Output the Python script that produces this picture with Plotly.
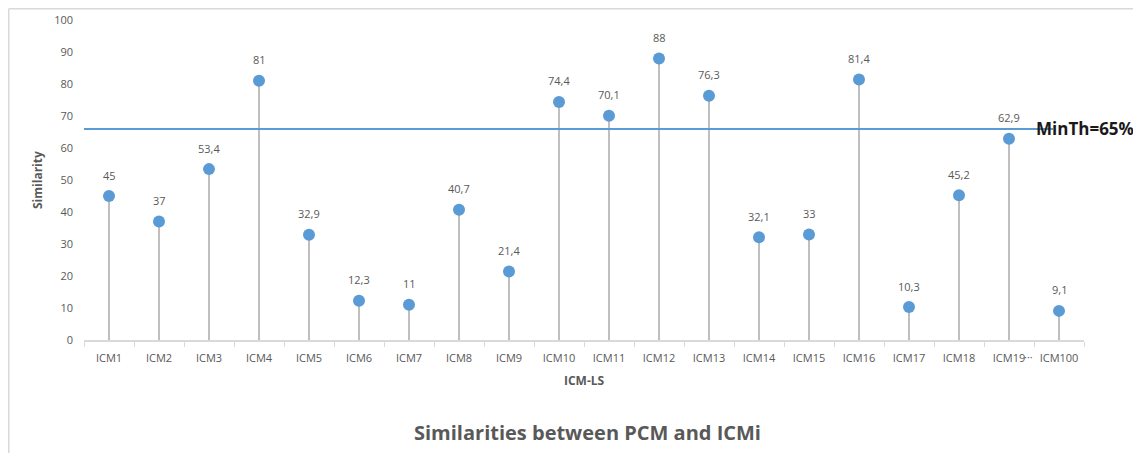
import plotly.graph_objects as go

categories = ["ICM1", "ICM2", "ICM3", "ICM4", "ICM5", "ICM6", "ICM7", "ICM8", "ICM9", "ICM10",
              "ICM11", "ICM12", "ICM13", "ICM14", "ICM15", "ICM16", "ICM17", "ICM18", "ICM19", "ICM100"]
similarity = [45, 37, 53.4, 81, 32.9, 12.3, 11, 40.7, 21.4, 74.4,
              70.1, 88, 76.3, 32.1, 33, 81.4, 10.3, 45.2, 62.9, 9.1]
y_ticks = [0, 10, 20, 30, 40, 50, 60, 70, 80, 90, 100]
threshold_label = "MinTh=65%"
threshold_line = 65.9

# page has an 8px body margin; figure coordinates = page coordinates - 8
OFF = 8
W, H = 1141 - OFF, 453 - OFF
L, T = 84 - OFF, 20 - OFF
pw, ph = 1000, 320
R, B = W - L - pw, H - T - ph

BLUE = "#5B9BD5"
GRAY_TXT = "#595959"
FONT = "Open Sans"


def px(xpage):
    return (xpage - OFF - L) / pw


def py(ypage):
    return 1 - (ypage - OFF - T) / ph


fig = go.Figure()

# stems
sx, sy = [], []
for c, v in zip(categories, similarity):
    sx += [c, c, None]
    sy += [0, v, None]
fig.add_trace(go.Scatter(x=sx, y=sy, mode="lines",
                         line=dict(color="#BFBFBF", width=2),
                         hoverinfo="skip", showlegend=False))
# points
fig.add_trace(go.Scatter(x=categories, y=similarity, mode="markers",
                         marker=dict(color=BLUE, size=12),
                         showlegend=False))

annotations = []
for c, v in zip(categories, similarity):
    annotations.append(dict(x=c, y=v, xref="x", yref="y",
                            text=f"{v:g}".replace(".", ","),
                            showarrow=False, yshift=21,
                            font=dict(family=FONT, size=11, color=GRAY_TXT)))

# threshold line
shapes = [dict(type="line", xref="paper", yref="y", x0=0, x1=px(1053),
               y0=threshold_line, y1=threshold_line,
               line=dict(color=BLUE, width=2))]
# outer border (top and left visible)
shapes.append(dict(type="line", xref="paper", yref="paper",
                   x0=px(8.75), x1=px(8.75), y0=py(460), y1=py(8.75),
                   line=dict(color="#D9D9D9", width=1.5)))
shapes.append(dict(type="line", xref="paper", yref="paper",
                   x0=px(8.75), x1=px(1150), y0=py(8.75), y1=py(8.75),
                   line=dict(color="#D9D9D9", width=1.5)))

annotations.append(dict(x=px(1034), y=threshold_line, xref="paper", yref="y",
                        text="<b>" + threshold_label + "</b>", showarrow=False,
                        xanchor="left", yanchor="middle", yshift=1,
                        font=dict(family=FONT, size=17, color="#1a1a1a")))
annotations.append(dict(x=18.38, y=py(356), xref="x", yref="paper",
                        text="···", showarrow=False, xanchor="center", yanchor="middle",
                        font=dict(family=FONT, size=11, color=GRAY_TXT)))
annotations.append(dict(x=0.5, y=py(380), xref="paper", yref="paper",
                        text="<b>ICM-LS</b>", showarrow=False, xanchor="center", yanchor="middle",
                        font=dict(family=FONT, size=12, color=GRAY_TXT)))
annotations.append(dict(x=px(587), y=py(432), xref="paper", yref="paper",
                        text="<b>Similarities between PCM and ICMi</b>", showarrow=False,
                        xanchor="center", yanchor="middle",
                        font=dict(family=FONT, size=20, color=GRAY_TXT)))
annotations.append(dict(x=px(37), y=0.5, xref="paper", yref="paper",
                        text="<b>Similarity</b>", showarrow=False, textangle=-90,
                        xanchor="center", yanchor="middle",
                        font=dict(family=FONT, size=12, color=GRAY_TXT)))

fig.update_layout(
    width=W, height=H,
    margin=dict(l=L, r=R, t=T, b=B, autoexpand=False),
    plot_bgcolor="white", paper_bgcolor="white",
    shapes=shapes, annotations=annotations,
    xaxis=dict(type="category", categoryorder="array", categoryarray=categories,
               range=[-0.5, len(categories) - 0.5], automargin=False,
               showline=True, linecolor="#D9D9D9", linewidth=1.5,
               ticks="outside", tickson="boundaries", ticklen=5, tickcolor="#D9D9D9",
               ticklabelstandoff=7,
               showgrid=False, zeroline=False,
               tickfont=dict(family=FONT, size=11, color=GRAY_TXT)),
    yaxis=dict(range=[0, 100], tickvals=y_ticks, showgrid=False, zeroline=False,
               automargin=False,
               showline=False, ticks="", ticklabelstandoff=10,
               tickfont=dict(family=FONT, size=11, color=GRAY_TXT)),
)

fig.write_html("out.html")
